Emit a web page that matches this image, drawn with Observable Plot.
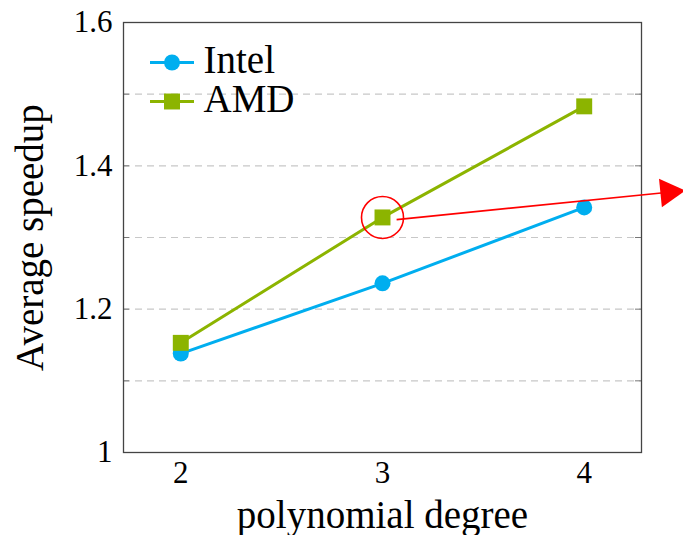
<!DOCTYPE html>
<html>
<head>
<meta charset="utf-8">
<script src="https://cdn.jsdelivr.net/npm/d3@7"></script>
<script src="https://cdn.jsdelivr.net/npm/@observablehq/plot@0.6"></script>
<style>
  html, body { margin: 0; padding: 0; background: #fff; }
  #chart { position: relative; width: 683px; height: 535px; font-family: "Liberation Serif", serif; }
</style>
</head>
<body>
<div id="chart"></div>
<script>
// ---- data ----
const degrees = [2, 3, 4];
const intelSpeedup = [1.138, 1.236, 1.342];
const amdSpeedup = [1.153, 1.328, 1.483];
const seriesNames = ["Intel", "AMD"];
const seriesColors = ["#00aeef", "#8cb400"];
const yTickLabels = [1, 1.2, 1.4, 1.6];
const yMinorTicks = [1, 1.1, 1.2, 1.3, 1.4, 1.5, 1.6];
const yGrid = [1.1, 1.2, 1.3, 1.4, 1.5];
const xDomain = [1.716, 4.284];
const yDomain = [1, 1.6];
const highlightPoint = [{x: 3, y: 1.328}];
const arrowStart = {x: 3.07, y: 1.325};
const arrowTip = {x: 4.502, y: 1.3656};
const xLabel = "polynomial degree";
const yLabel = "Average speedup";

// ---- build ----
const rows = [
  ...degrees.map((d, i) => ({degree: d, speedup: intelSpeedup[i], series: "Intel"})),
  ...degrees.map((d, i) => ({degree: d, speedup: amdSpeedup[i], series: "AMD"}))
];
const intelRows = rows.filter(r => r.series === "Intel");
const amdRows = rows.filter(r => r.series === "AMD");

const W = 683, H = 535, mL = 123, mR = 42, mT = 22, mB = 83;
const plotW = W - mL - mR;
const tickLen = 6;
const FONT = "Liberation Serif";

// arrowhead placed 2/3 of its length back from the tip (triangle centroid)
const headFrac = 0.942;
const arrowHead = [{
  x: arrowStart.x + headFrac * (arrowTip.x - arrowStart.x),
  y: arrowStart.y + headFrac * (arrowTip.y - arrowStart.y)
}];
const arrowLine = [{x1: arrowStart.x, y1: arrowStart.y, x2: arrowHead[0].x, y2: arrowHead[0].y}];

const lineSymbol = {draw(ctx) { ctx.moveTo(-22, 0); ctx.lineTo(22, 0); }};

const chart = Plot.plot({
  width: W, height: H,
  marginLeft: mL, marginRight: mR, marginTop: mT, marginBottom: mB,
  style: {fontSize: "31px", color: "#000", background: "#fff"},
  x: {domain: xDomain, ticks: degrees, tickFormat: d => String(d), tickSize: 0, tickPadding: 8, label: null},
  y: {domain: yDomain, ticks: yTickLabels, tickFormat: d => d === 1 ? "1" : d.toFixed(1), tickSize: 0, tickPadding: 11, label: null},
  marks: [
    Plot.ruleY(yGrid, {stroke: "#c8c8c8", strokeWidth: 1.1, strokeDasharray: "7,5"}),
    Plot.ruleY(yMinorTicks, {stroke: "#777", strokeWidth: 1, insetRight: plotW - tickLen}),
    Plot.ruleY(yMinorTicks, {stroke: "#777", strokeWidth: 1, insetLeft: plotW - tickLen}),
    Plot.frame({stroke: "#444", strokeWidth: 1.3}),
    Plot.line(intelRows, {x: "degree", y: "speedup", stroke: seriesColors[0], strokeWidth: 3}),
    Plot.line(amdRows, {x: "degree", y: "speedup", stroke: seriesColors[1], strokeWidth: 3}),
    Plot.dot(intelRows, {x: "degree", y: "speedup", fill: seriesColors[0], r: 8, symbol: "circle"}),
    Plot.dot(amdRows, {x: "degree", y: "speedup", fill: seriesColors[1], r: 9, symbol: "square"}),
    // annotation
    Plot.dot(highlightPoint, {x: "x", y: "y", r: 21, stroke: "red", strokeWidth: 1.6, fill: "none"}),
    Plot.link(arrowLine, {x1: "x1", y1: "y1", x2: "x2", y2: "y2", stroke: "red", strokeWidth: 1.6}),
    Plot.dot(arrowHead, {x: "x", y: "y", symbol: "triangle", r: 10.7, rotate: 84.25, fill: "red"}),
    // legend
    Plot.dot([seriesNames[0]], {frameAnchor: "top-left", dx: 48.5, dy: 40, symbol: lineSymbol, stroke: seriesColors[0], strokeWidth: 3, fill: "none", r: 5}),
    Plot.dot([seriesNames[0]], {frameAnchor: "top-left", dx: 48.5, dy: 40, symbol: "circle", fill: seriesColors[0], r: 8}),
    Plot.dot([seriesNames[1]], {frameAnchor: "top-left", dx: 48.5, dy: 79, symbol: lineSymbol, stroke: seriesColors[1], strokeWidth: 3, fill: "none", r: 5}),
    Plot.dot([seriesNames[1]], {frameAnchor: "top-left", dx: 48.5, dy: 79, symbol: "square", fill: seriesColors[1], r: 9}),
    Plot.text([seriesNames[0]], {text: d => d, frameAnchor: "top-left", dx: 80, dy: 38.5, textAnchor: "start", lineAnchor: "middle", fontSize: 39, fill: "#000"}),
    Plot.text([seriesNames[1]], {text: d => d, frameAnchor: "top-left", dx: 80, dy: 77.5, textAnchor: "start", lineAnchor: "middle", fontSize: 39, fill: "#000"}),
    // axis labels
    Plot.text([xLabel], {text: d => d, frameAnchor: "bottom", dy: 63, textAnchor: "middle", lineAnchor: "middle", fontSize: 39, fill: "#000"}),
    Plot.text([yLabel], {text: d => d, frameAnchor: "left", dx: -93, rotate: -90, textAnchor: "middle", lineAnchor: "middle", fontSize: 39, fill: "#000"})
  ]
});
chart.style.setProperty("font-family", FONT, "important");
chart.querySelectorAll("g, text, tspan").forEach(el => {
  el.setAttribute("font-family", FONT);
  el.style.setProperty("font-family", FONT, "important");
});
document.getElementById("chart").appendChild(chart);
</script>
</body>
</html>
